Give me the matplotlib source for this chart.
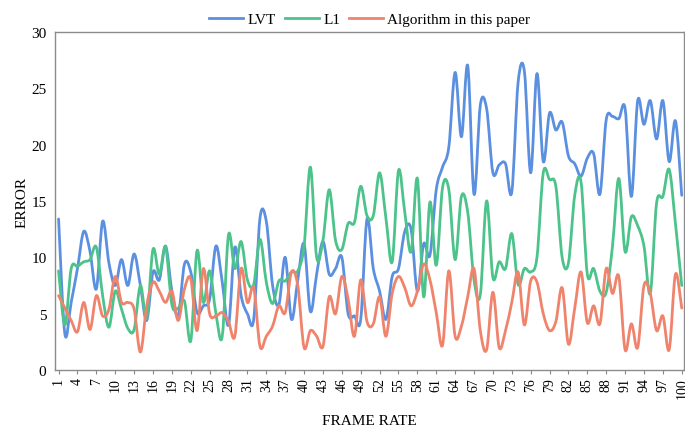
import numpy as np
import matplotlib
matplotlib.use("Agg")
import matplotlib.pyplot as plt
from matplotlib.path import Path
from matplotlib.patches import PathPatch
from matplotlib.lines import Line2D

frames = list(range(1, 101))

lvt = [13.4, 3.2, 6.0, 9.0, 12.3, 10.5, 7.2, 13.2, 9.5, 7.5,
       9.8, 7.5, 10.3, 7.5, 4.4, 8.7, 8.0, 11.0, 7.0, 4.8,
       9.4, 8.7, 5.1, 5.7, 6.3, 11.0, 7.8, 4.0, 10.9, 6.6,
       5.0, 4.5, 13.5, 13.2, 7.5, 5.8, 10.0, 4.5, 8.0, 11.2,
       5.2, 8.5, 11.4, 8.5, 9.0, 10.0, 5.0, 4.8, 4.5, 13.4,
       9.0, 7.0, 4.5, 8.3, 9.0, 12.3, 12.5, 7.0, 11.2, 10.2,
       16.0, 18.0, 19.8, 26.4, 20.7, 27.0, 15.6, 23.5, 23.2, 17.5,
       18.2, 18.3, 15.8, 25.5, 26.5, 17.5, 26.3, 18.5, 22.8, 21.3,
       22.0, 19.0, 18.3, 17.2, 18.8, 19.2, 15.6, 22.2, 22.5, 22.3,
       23.2, 15.4, 23.9, 21.8, 23.9, 20.5, 23.9, 18.5, 22.1, 15.5]

l1 = [8.8, 4.0, 9.0, 9.2, 9.6, 9.8, 10.9, 6.6, 3.8, 7.0,
      5.4, 3.7, 3.6, 7.5, 4.6, 10.7, 8.5, 10.9, 5.8, 5.5,
      6.1, 2.6, 10.6, 6.0, 8.8, 5.0, 3.0, 12.0, 9.0, 11.4,
      8.0, 7.6, 11.6, 7.8, 5.9, 7.9, 7.9, 8.7, 8.8, 11.0,
      18.0, 10.0, 11.5, 16.0, 11.5, 10.7, 13.0, 13.1, 16.3, 13.7,
      13.7, 17.5, 13.5, 9.6, 17.7, 14.0, 10.5, 17.0, 6.5, 14.9,
      9.3, 16.2, 16.0, 9.8, 15.4, 14.0, 8.0, 6.7, 15.0, 8.2,
      9.6, 9.0, 12.1, 7.6, 9.0, 8.7, 10.0, 17.5, 16.9, 16.3,
      10.0, 9.5, 15.5, 16.7, 8.5, 9.0, 7.0, 6.9, 11.0, 17.0,
      10.5, 13.6, 12.8, 11.0, 6.8, 14.8, 15.4, 17.8, 13.0, 7.5]

algo = [6.6, 5.5, 4.4, 3.4, 6.0, 3.6, 6.6, 4.8, 5.4, 8.3,
        6.0, 6.0, 5.4, 1.6, 5.7, 7.8, 7.0, 6.0, 7.0, 4.4,
        7.2, 8.1, 3.5, 9.0, 5.0, 4.8, 5.1, 4.3, 3.0, 9.0,
        6.0, 7.3, 2.1, 3.0, 3.9, 5.7, 5.1, 8.7, 7.5, 2.0,
        3.5, 3.0, 2.1, 6.5, 5.0, 8.3, 6.3, 3.0, 8.0, 4.3,
        4.1, 6.5, 3.0, 6.8, 8.3, 7.3, 5.7, 7.0, 9.4, 8.0,
        5.1, 2.2, 8.8, 3.0, 3.9, 6.5, 9.0, 3.5, 1.8, 6.9,
        2.0, 3.5, 6.0, 8.7, 4.0, 7.9, 7.8, 5.0, 3.5, 4.3,
        7.3, 2.3, 5.5, 8.7, 4.2, 5.7, 4.1, 9.0, 6.8, 8.3,
        1.8, 4.1, 2.0, 7.5, 6.8, 3.5, 4.8, 1.8, 8.5, 5.5]

names = ["LVT", "L1", "Algorithm in this paper"]
colors = ["#5b8fe0", "#4cc38a", "#f0836c"]


def smooth_path(x, y, t=1 / 6):
    # excel-like smoothed line: catmull-rom segments as cubic beziers
    x = np.asarray(x, float)
    y = np.asarray(y, float)
    n = len(x)
    verts = [(x[0], y[0])]
    codes = [Path.MOVETO]
    for i in range(n - 1):
        p0 = i - 1 if i > 0 else i
        p3 = i + 2 if i + 2 < n else i + 1
        c1 = (x[i] + (x[i + 1] - x[p0]) * t, y[i] + (y[i + 1] - y[p0]) * t)
        c2 = (x[i + 1] - (x[p3] - x[i]) * t, y[i + 1] - (y[p3] - y[i]) * t)
        verts += [c1, c2, (x[i + 1], y[i + 1])]
        codes += [Path.CURVE4] * 3
    return Path(verts, codes)


plt.rcParams["font.family"] = ["Liberation Serif", "DejaVu Serif"]

fig = plt.figure(figsize=(6.85, 4.27), dpi=100)
ax = fig.add_axes([0.080, 0.131, 0.918, 0.792])

for series, c in zip([lvt, l1, algo], colors):
    ax.add_patch(PathPatch(smooth_path(frames, series), facecolor="none",
                           edgecolor=c, lw=2.0, capstyle="round",
                           joinstyle="round"))

ax.set_xlim(0.4, 100.3)
ax.set_ylim(0, 30)
ax.set_yticks(range(0, 31, 5))
ax.set_xticks(frames[::3])
ax.tick_params(axis="x", labelrotation=90, labelsize=10, length=3,
               color="#888888", pad=2)
ax.tick_params(axis="y", labelsize=11, length=0, pad=6)
for s in ax.spines.values():
    s.set_color("#8c8c8c")
    s.set_linewidth(1.0)

ax.set_xlabel("FRAME RATE", fontsize=11, labelpad=12)
ax.set_ylabel("ERROR", fontsize=11, labelpad=2)

handles = [Line2D([], [], color=c, lw=2.0) for c in colors]
fig.legend(handles, names, loc="upper center", bbox_to_anchor=(0.54, 1.0),
           ncol=3, frameon=False, fontsize=11, handlelength=2.2,
           handletextpad=0.3, columnspacing=0.6)

fig.savefig("out.png", dpi=100)
